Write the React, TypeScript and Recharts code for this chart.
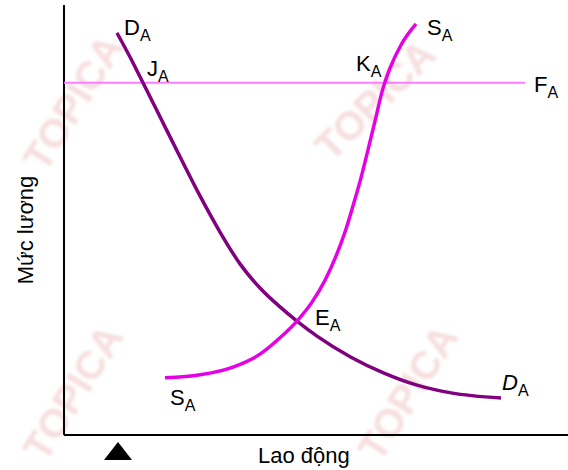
import { LineChart, Line, XAxis, YAxis, ReferenceDot, ReferenceLine } from "recharts";

/* ── Data (x = lao động, y = mức lương, arbitrary units 0–100) ── */
const demandX = [10.6, 13.2, 15.8, 19.2, 23.2, 27.2, 31.2, 35.2, 39.2, 43.2, 46.6, 50.6, 57.4, 64.0, 70.6, 77.4, 87.4];
const demandY = [93.5, 87.9, 81.9, 74.0, 64.7, 55.6, 47.2, 39.8, 34.2, 29.8, 26.5, 23.0, 18.1, 14.4, 11.6, 9.8, 8.6];

const supplyX = [20.2, 27.2, 33.8, 39.2, 43.2, 46.6, 49.6, 52.2, 54.4, 56.2, 57.8, 59.4, 60.8, 62.2, 63.6, 65.2, 67.4, 70.4];
const supplyY = [13.3, 14.0, 15.8, 18.8, 22.6, 26.5, 30.9, 36.0, 41.6, 47.2, 53.3, 59.8, 66.3, 73.0, 79.8, 85.3, 90.7, 95.6];

const fixedX = [0, 92.2];
const fixedY = [81.9, 81.9];

// curve labels: main letter + subscript
const labelText = ["D", "J", "K", "S", "F", "E", "S", "D"];
const labelSub = ["A", "A", "A", "A", "A", "A", "A", "A"];
const labelX = [12.0, 16.6, 58.4, 72.6, 94.0, 50.2, 21.2, 87.6];
const labelY = [93.0, 83.5, 84.7, 93.0, 79.8, 25.6, 7.0, 10.5];
const labelItalic = [false, false, false, false, false, false, false, true];

// marker under the x axis
const markerX = 10.8;
const markerY = -3.7;

const toPoints = (xs: number[], ys: number[]) => xs.map((x, i) => ({ x, y: ys[i] }));

const demand = toPoints(demandX, demandY);
const supply = toPoints(supplyX, supplyY);
const fixed = toPoints(fixedX, fixedY);

const FONT = "'Liberation Sans', Arial, sans-serif";

/* ── Watermark (background decoration) ── */
function Watermark() {
	const marks = [
		{ x: 85, y: 110, r: -58 },
		{ x: 385, y: 110, r: -45 },
		{ x: 85, y: 400, r: -58 },
		{ x: 420, y: 400, r: -58 },
	];
	return (
		<svg width={568} height={470} style={{ position: "absolute", left: 0, top: 0 }}>
			<defs>
				<filter id="wmblur">
					<feGaussianBlur stdDeviation="1.5" />
				</filter>
			</defs>
			{marks.map((m, i) => (
				<text
					key={i}
					x={m.x}
					y={m.y}
					transform={`rotate(${m.r} ${m.x} ${m.y})`}
					textAnchor="middle"
					fontFamily={FONT}
					fontWeight="bold"
					fontSize={40}
					fill="#f6dede"
					filter="url(#wmblur)"
				>
					TOPICA
				</text>
			))}
		</svg>
	);
}

export default function App() {
	return (
		<div style={{ position: "relative", width: 568, height: 470, background: "#fff" }}>
			<style>{`body{margin:0}`}</style>
			<Watermark />
			<div style={{ position: "absolute", left: 0, top: 0 }}>
				<LineChart width={568} height={470} margin={{ top: 5, right: 0, bottom: 35, left: 64 }}>
					<XAxis type="number" dataKey="x" domain={[0, 100.8]} allowDataOverflow hide />
					<YAxis type="number" dataKey="y" domain={[0, 100]} allowDataOverflow hide />
					<ReferenceLine x={0} stroke="#000" strokeWidth={2} ifOverflow="visible" />
					<ReferenceLine y={0} stroke="#000" strokeWidth={2} ifOverflow="visible" />
					<Line
						data={fixed}
						dataKey="y"
						type="linear"
						stroke="#ff7cff"
						strokeWidth={2}
						dot={false}
						isAnimationActive={false}
					/>
					<Line
						data={demand}
						dataKey="y"
						type="monotone"
						stroke="#800080"
						strokeWidth={3.5}
						dot={false}
						isAnimationActive={false}
					/>
					<Line
						data={supply}
						dataKey="y"
						type="monotone"
						stroke="#e600e6"
						strokeWidth={3.5}
						dot={false}
						isAnimationActive={false}
					/>
					{labelText.map((t, i) => (
						<ReferenceDot
							key={i}
							x={labelX[i]}
							y={labelY[i]}
							r={0}
							ifOverflow="visible"
							shape={(p: any) => (
								<text x={p.cx} y={p.cy} fontFamily={FONT} fill="#000">
									<tspan fontSize={22} fontStyle={labelItalic[i] ? "italic" : "normal"}>
										{t}
									</tspan>
									<tspan fontSize={16} dy={6}>
										{labelSub[i]}
									</tspan>
								</text>
							)}
						/>
					))}
					<ReferenceDot
						x={markerX}
						y={markerY}
						r={0}
						ifOverflow="visible"
						shape={(p: any) => (
							<polygon
								points={`${p.cx - 14},${p.cy + 9} ${p.cx + 14},${p.cy + 9} ${p.cx},${p.cy - 9}`}
								fill="#000"
							/>
						)}
					/>
				</LineChart>
				<svg width={568} height={470} style={{ position: "absolute", left: 0, top: 0, pointerEvents: "none" }}>
					<text x={258} y={463} fontFamily={FONT} fontSize={22} fill="#000">
						Lao động
					</text>
					<text
						x={33}
						y={230}
						transform="rotate(-90 33 230)"
						textAnchor="middle"
						fontFamily={FONT}
						fontSize={22}
						fill="#000"
					>
						Mức lương
					</text>
				</svg>
			</div>
		</div>
	);
}
